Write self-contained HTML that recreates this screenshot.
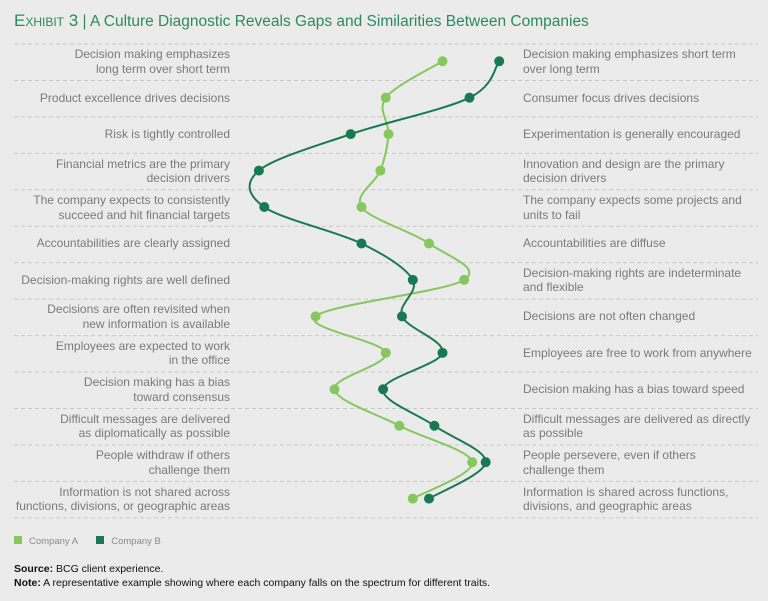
<!DOCTYPE html>
<html><head><meta charset="utf-8"><style>
body{margin:0;width:768px;height:601px;background:#ebebeb;font-family:"Liberation Sans",sans-serif;overflow:hidden;position:relative}
.t{position:absolute;font-size:12px;line-height:14.5px;color:#7a7a7a}
.l{right:538px;text-align:right}
.r{left:523px}
</style></head><body>
<div style="position:absolute;left:14px;top:11px;font-size:15.5px;color:#2a8a63"><span style="font-variant:small-caps;font-size:17px">Exhibit 3</span> | A Culture Diagnostic Reveals Gaps and Similarities Between Companies</div>
<div id="labels"></div>
<svg id="chart" width="768" height="601" style="position:absolute;left:0;top:0"></svg>
<div style="position:absolute;left:14px;top:536px;font-size:9.5px;color:#8a8a8a">
<span><span style="display:inline-block;width:8px;height:8px;background:#86c75e;margin-right:7px"></span>Company A</span>
<span style="margin-left:16px"><span style="display:inline-block;width:8px;height:8px;background:#177a55;margin-right:7px"></span>Company B</span></div>
<div style="position:absolute;left:14px;top:563px;font-size:10.5px;line-height:13.5px;color:#111"><b>Source:</b> BCG client experience.<br><b>Note:</b> A representative example showing where each company falls on the spectrum for different traits.</div>
<script>
const leftLabels=["Decision making emphasizes<br>long term over short term","Product excellence drives decisions","Risk is tightly controlled","Financial metrics are the primary<br>decision drivers","The company expects to consistently<br>succeed and hit financial targets","Accountabilities are clearly assigned","Decision-making rights are well defined","Decisions are often revisited when<br>new information is available","Employees are expected to work<br>in the office","Decision making has a bias<br>toward consensus","Difficult messages are delivered<br>as diplomatically as possible","People withdraw if others<br>challenge them","Information is not shared across<br>functions, divisions, or geographic areas"];
const rightLabels=["Decision making emphasizes short term<br>over long term","Consumer focus drives decisions","Experimentation is generally encouraged","Innovation and design are the primary<br>decision drivers","The company expects some projects and<br>units to fail","Accountabilities are diffuse","Decision-making rights are indeterminate<br>and flexible","Decisions are not often changed","Employees are free to work from anywhere","Decision making has a bias toward speed","Difficult messages are delivered as directly<br>as possible","People persevere, even if others<br>challenge them","Information is shared across functions,<br>divisions, and geographic areas"];
const companyA=[75,54,55,52,45,70,83,28,54,35,59,86,64];
const companyB=[96,85,41,7,9,45,64,60,75,53,72,91,70];
const x=v=>240+v*2.7;
const rowTop=44,rowH=36.45;
const y=i=>rowTop+rowH*i+rowH/2-1;
const svg=document.getElementById('chart'),NS='http://www.w3.org/2000/svg';
const lab=document.getElementById('labels');
for(let i=0;i<=leftLabels.length;i++){
  const ln=document.createElementNS(NS,'line');
  
  
  const yy=rowTop+rowH*i;
  ln.setAttribute('x1',14);ln.setAttribute('x2',758);ln.setAttribute('y1',yy);ln.setAttribute('y2',yy);
  ln.setAttribute('stroke','#c8c8c8');ln.setAttribute('stroke-dasharray','4 3');ln.setAttribute('stroke-width','1');
  svg.appendChild(ln);
}
leftLabels.forEach((t,i)=>{
  const two=t.includes('<br>');
  const d=document.createElement('div');d.className='t l';d.innerHTML=t;
  
  
  d.style.top=(y(i)-(two?14:7))+'px';lab.appendChild(d);
  const e=document.createElement('div');e.className='t r';e.innerHTML=rightLabels[i];
  
  
  e.style.top=(y(i)-(rightLabels[i].includes('<br>')?14:7))+'px';lab.appendChild(e);
});
function path(vals){
  const p=vals.map((v,i)=>[x(v),y(i)]);
  let d='M'+p[0][0]+','+p[0][1];
  for(let i=0;i<p.length-1;i++){
    const p0=p[i-1]||p[i],p1=p[i],p2=p[i+1],p3=p[i+2]||p2;
    const c1=[p1[0]+(p2[0]-p0[0])/6,p1[1]+(p2[1]-p0[1])/6];
    const c2=[p2[0]-(p3[0]-p1[0])/6,p2[1]-(p3[1]-p1[1])/6];
    d+=` C${c1} ${c2} ${p2}`;
  }
  return d;
}
[[companyA,'#86c75e','a'],[companyB,'#177a55','b']].forEach(([vals,c,n])=>{
  const pa=document.createElementNS(NS,'path');
  
  
  pa.setAttribute('d',path(vals));pa.setAttribute('fill','none');pa.setAttribute('stroke',c);pa.setAttribute('stroke-width','2');
  svg.appendChild(pa);
  vals.forEach((v,i)=>{
    const ci=document.createElementNS(NS,'circle');
    
    
    ci.setAttribute('cx',x(v));ci.setAttribute('cy',y(i));ci.setAttribute('r',5);ci.setAttribute('fill',c);
    svg.appendChild(ci);
  });
});
</script>
</body></html>
